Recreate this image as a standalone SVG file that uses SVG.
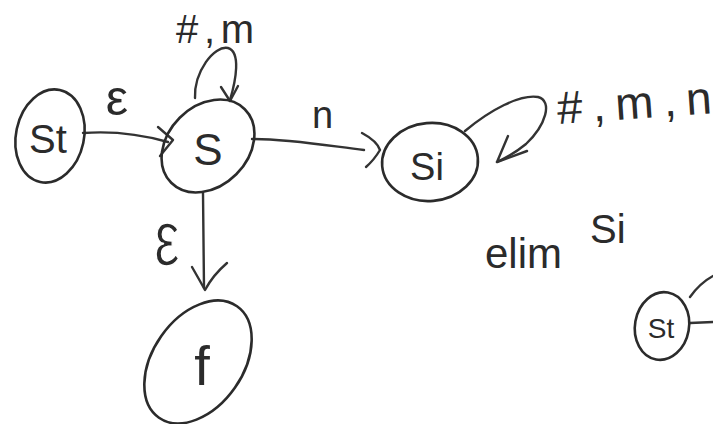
<svg xmlns="http://www.w3.org/2000/svg" width="713" height="424" viewBox="0 0 713 424">
<style>
.n{fill:none;stroke:#2b2b2b;stroke-width:2.6;stroke-linecap:round;stroke-linejoin:round}
.e{fill:none;stroke:#333;stroke-width:2.4;stroke-linecap:round;stroke-linejoin:round}
.t{font-family:"Liberation Sans","DejaVu Sans",sans-serif;fill:#2b2b2b}
.m{text-anchor:middle}
</style>
<rect width="713" height="424" fill="#fff"/>
<g id="connectors">
<path class="e" d="M83,133 C110,131 140,134 168,142"/>
<path class="e" d="M158,127 L173,140 L160,156"/>
<path class="e" d="M252,139 C290,139 330,146 364,150"/>
<path class="e" d="M362,133 Q377,141 380,150 Q374,160 366,167"/>
<path class="e" d="M195,98 C194,72 214,45 228,48 C241,52 236,80 230,100"/>
<path class="e" d="M221,87 L230,101 L238,86"/>
<path class="e" d="M203,193 L204,288"/>
<path class="e" d="M192,267 Q200,281 205,290 Q213,275 227,263"/>
<path class="e" d="M465,131 C490,110 520,94 538,97 C553,101 546,125 526,144 C515,153 506,158 497,162"/>
<path class="e" d="M508,136 L497,162 L527,151"/>
<path class="e" d="M690,297 Q700,283 713,276"/>
<path class="e" d="M690,323 L713,322"/>
</g>
<g id="node-St">
<ellipse class="n" cx="50" cy="136" rx="34" ry="47" transform="rotate(12 50 136)"/>
<text class="t m" x="48" y="153" font-size="40">St</text>
</g>
<g id="node-S">
<ellipse class="n" cx="208" cy="146" rx="52" ry="40" transform="rotate(-45 208 146)"/>
<text class="t m" x="208" y="165" font-size="44">S</text>
</g>
<g id="node-Si">
<ellipse class="n" cx="430" cy="162" rx="48" ry="39" transform="rotate(-5 430 162)"/>
<text class="t m" x="427" y="180" font-size="38">Si</text>
</g>
<g id="node-f">
<ellipse class="n" cx="198" cy="362" rx="68" ry="45" transform="rotate(-55 198 362)"/>
<text class="t m" x="202" y="385" font-size="56">f</text>
</g>
<g id="node-St2">
<ellipse class="n" cx="662" cy="326" rx="27" ry="34" transform="rotate(10 662 326)"/>
<text class="t m" x="661" y="338" font-size="28">St</text>
</g>
<g id="labels">
<text class="t m" x="117" y="115" font-size="50">ε</text>
<text class="t" x="176" y="43" font-size="40" textLength="78" lengthAdjust="spacing">#,m</text>
<text class="t" x="312" y="128" font-size="38">n</text>
<text class="t" transform="translate(167,265) scale(0.95,1.3)" text-anchor="middle" font-size="60" stroke="#fff" stroke-width="1.2">ε</text>
<text class="t" x="558" y="124" font-size="46" textLength="155" lengthAdjust="spacing" transform="rotate(-4 558 124)">#,m,n</text>
<text class="t" x="485" y="268" font-size="42">elim</text>
<text class="t" x="590" y="243" font-size="40">Si</text>
</g>
</svg>
